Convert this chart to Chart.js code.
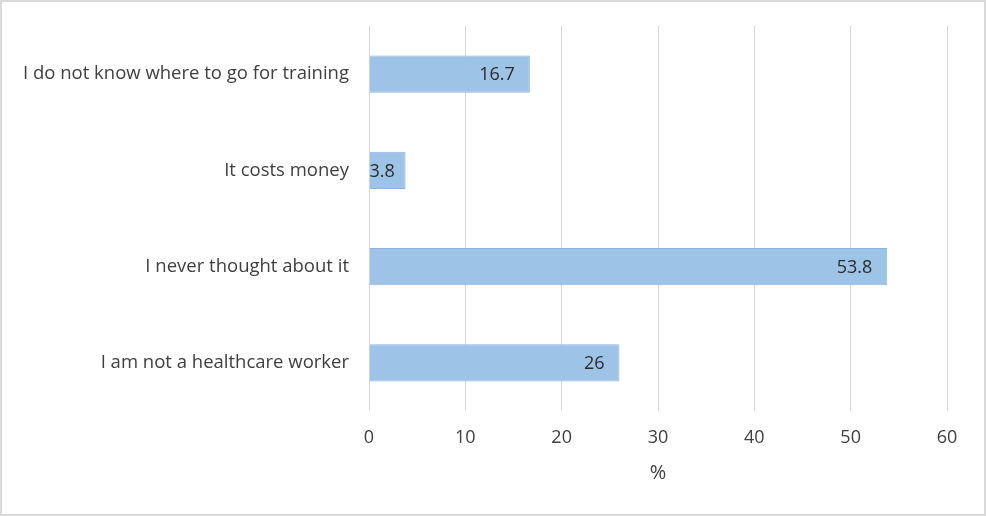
<!DOCTYPE html>
<html>
<head>
<meta charset="utf-8">
<script src="https://cdn.jsdelivr.net/npm/chart.js@4.4.1/dist/chart.umd.min.js"></script>
<style>
  html, body { margin: 0; padding: 0; background: #fff; }
  #wrap { width: 986px; height: 516px; position: relative; }
</style>
</head>
<body>
<div id="wrap"><canvas id="myChart" width="986" height="516"></canvas></div>
<script>
const reasons = [
  "I do not know where to go for training",
  "It costs money",
  "I never thought about it",
  "I am not a healthcare worker"
];
const percents = [16.7, 3.8, 53.8, 26];
const xTicks = [0, 10, 20, 30, 40, 50, 60];

const textColor = "#404040";
const fontFamily = "'Open Sans', 'Noto Sans', sans-serif";

// frame round the whole picture
const frame = {
  id: "frame",
  afterDraw(chart) {
    const c = chart.ctx;
    c.save();
    c.strokeStyle = "#d9d9d9";
    c.lineWidth = 2;
    c.strokeRect(1, 1, chart.width - 2, chart.height - 2);
    c.restore();
  }
};

// value labels at the inner end of each bar, kept inside short bars
const barLabels = {
  id: "barLabels",
  afterDatasetsDraw(chart) {
    const c = chart.ctx;
    const meta = chart.getDatasetMeta(0);
    c.save();
    c.font = "18px " + fontFamily;
    c.fillStyle = "#2b2b2b";
    c.textAlign = "right";
    c.textBaseline = "middle";
    meta.data.forEach((bar, i) => {
      const txt = String(percents[i]);
      const w = c.measureText(txt).width;
      const x = Math.max(bar.x - 15, bar.base + w + 0);
      c.fillText(txt, x, bar.y + 1);
    });
    c.restore();
  }
};

let ctx = document.getElementById("myChart").getContext("2d");
let myGraph = new Chart(ctx, {
  type: "bar",
  data: {
    labels: reasons,
    datasets: [
      {
        data: percents,
        backgroundColor: "#9dc3e6",
        borderColor: "#8db4df",
        borderWidth: 1,
        categoryPercentage: 0.385,
        barPercentage: 1,
      },
    ],
  },
  options: {
    indexAxis: "y",
    responsive: false,
    animation: false,
    layout: { padding: { top: 26, right: 39, bottom: 31, left: 0 } },
    plugins: {
      legend: { display: false },
      tooltip: { enabled: false },
    },
    scales: {
      x: {
        min: 0,
        max: 60,
        afterBuildTicks(axis) {
          axis.ticks = xTicks.map((v) => ({ value: v }));
        },
        afterFit(axis) {
          axis.height = 74;
        },
        grid: { color: "#d9d9d9", lineWidth: 1, drawTicks: false },
        border: { display: false },
        ticks: {
          color: textColor,
          padding: 16,
          font: { size: 18, family: fontFamily },
        },
        title: {
          display: true,
          text: "%",
          color: textColor,
          padding: { top: 0, bottom: 0 },
          font: { size: 20, family: fontFamily },
        },
      },
      y: {
        afterFit(axis) {
          axis.width = 369;
        },
        grid: { display: false },
        border: { display: false },
        ticks: {
          color: textColor,
          padding: 12,
          font: { size: 18.5, family: fontFamily },
        },
      },
    },
  },
  plugins: [frame, barLabels],
});
</script>
</body>
</html>
